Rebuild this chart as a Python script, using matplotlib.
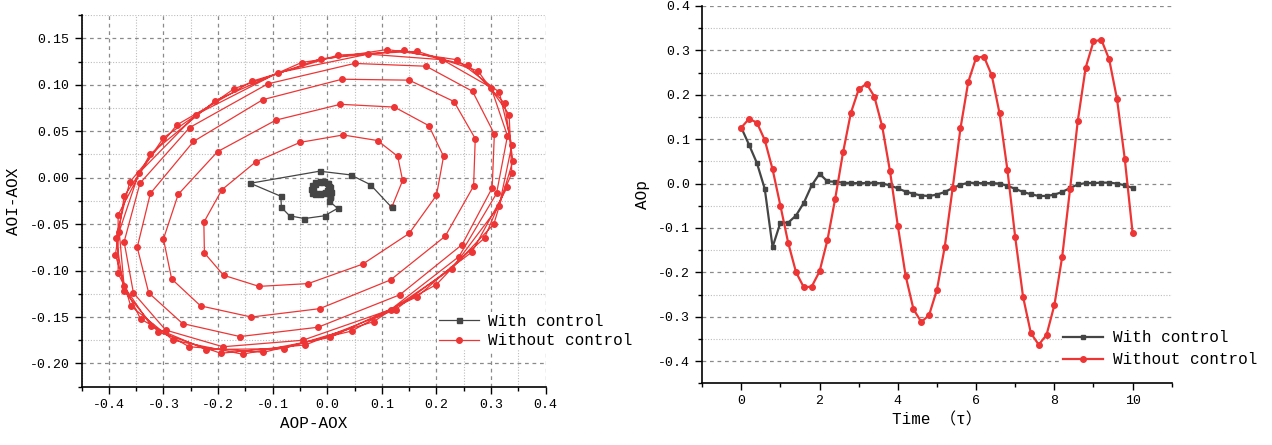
import numpy as np
import matplotlib
matplotlib.use("Agg")
import matplotlib.pyplot as plt
from matplotlib.ticker import MultipleLocator, FormatStrFormatter

plt.rcParams['font.family'] = ['Liberation Mono', 'Noto Sans CJK SC', 'DejaVu Sans']
plt.rcParams['axes.unicode_minus'] = True

RED = "#EE3535"
GREY = "#454545"

# ---------------------------------------------------------------------------
# Phase plane (left): AOP-AOX vs AOI-AOX
# ---------------------------------------------------------------------------
ctrl_px = [0.118, 0.079, 0.043, -0.014, -0.141, -0.085, -0.084, -0.069, -0.042, -0.005,
           0.019, 0.003, 0.005, 0.006, 0.005, 0.001, -0.006, -0.014, -0.022, -0.028,
           -0.030, -0.028, -0.022, -0.014, -0.006, 0.000, 0.003, 0.000, -0.007, -0.015,
           -0.023, -0.027, -0.026, -0.020, -0.012, -0.004, 0.002, 0.004, 0.005]
ctrl_py = [-0.032, -0.0075, 0.003, 0.007, -0.006, -0.020, -0.032, -0.041, -0.044, -0.041,
           -0.033, -0.025, -0.020, -0.015, -0.010, -0.006, -0.004, -0.004, -0.005, -0.008,
           -0.012, -0.016, -0.018, -0.018, -0.016, -0.013, -0.009, -0.006, -0.005, -0.005,
           -0.007, -0.011, -0.015, -0.017, -0.017, -0.015, -0.012, -0.016, -0.021]

free_px = [0.118, 0.138, 0.129, 0.092, 0.029, -0.050, -0.131, -0.193, -0.226, -0.225,
           -0.190, -0.125, -0.035, 0.065, 0.150, 0.200, 0.213, 0.186, 0.123, 0.024,
           -0.094, -0.201, -0.273, -0.300, -0.285, -0.232, -0.139, -0.014, 0.116, 0.216,
           0.268, 0.271, 0.232, 0.150, 0.027, -0.118, -0.245, -0.324, -0.348, -0.327,
           -0.265, -0.160, -0.017, 0.133, 0.247, 0.302, 0.306, 0.266, 0.181, 0.050,
           -0.109, -0.252, -0.343, -0.372, -0.355, -0.296, -0.191, -0.045, 0.116, 0.241,
           0.310, 0.330, 0.300, 0.211, 0.075, -0.090, -0.240, -0.345, -0.381, -0.372,
           -0.322, -0.222, -0.080, 0.085, 0.228, 0.315, 0.338, 0.315, 0.237, 0.110,
           -0.047, -0.205, -0.325, -0.383, -0.383, -0.342, -0.253, -0.117, 0.045, 0.200,
           0.305, 0.340, 0.325, 0.258, 0.140, -0.012, -0.170, -0.300, -0.372, -0.388,
           -0.360, -0.282, -0.155, 0.005, 0.165, 0.288, 0.338, 0.333, 0.276, 0.165,
           0.020, -0.137, -0.275, -0.362, -0.387, -0.372, -0.310, -0.195, -0.040, 0.125,
           0.265, 0.330]
free_py = [-0.032, -0.003, 0.023, 0.040, 0.046, 0.038, 0.017, -0.013, -0.048, -0.081,
           -0.105, -0.117, -0.114, -0.093, -0.060, -0.019, 0.023, 0.056, 0.076, 0.079,
           0.062, 0.028, -0.018, -0.066, -0.109, -0.138, -0.150, -0.141, -0.110, -0.063,
           -0.009, 0.042, 0.082, 0.105, 0.106, 0.084, 0.039, -0.017, -0.075, -0.124,
           -0.157, -0.171, -0.161, -0.126, -0.072, -0.011, 0.047, 0.093, 0.120, 0.123,
           0.101, 0.054, -0.006, -0.069, -0.124, -0.164, -0.182, -0.175, -0.142, -0.085,
           -0.017, 0.045, 0.097, 0.127, 0.133, 0.113, 0.068, 0.005, -0.058, -0.117,
           -0.160, -0.185, -0.184, -0.155, -0.098, -0.030, 0.035, 0.092, 0.127, 0.138,
           0.124, 0.083, 0.025, -0.040, -0.103, -0.152, -0.182, -0.188, -0.165, -0.115,
           -0.050, 0.018, 0.080, 0.121, 0.137, 0.128, 0.096, 0.043, -0.020, -0.083,
           -0.138, -0.175, -0.190, -0.172, -0.128, -0.065, 0.005, 0.068, 0.115, 0.136,
           0.132, 0.104, 0.057, -0.005, -0.065, -0.122, -0.166, -0.189, -0.180, -0.142,
           -0.080, -0.010]

# ---------------------------------------------------------------------------
# Time series (right): AOp vs time, sampled every 0.2
# ---------------------------------------------------------------------------
t = np.round(np.arange(51) * 0.2, 1)
aop_ctrl = [0.126, 0.087, 0.046, -0.012, -0.143, -0.088, -0.088, -0.072, -0.043, -0.004,
            0.022, 0.005, 0.004, 0.002, 0.001, 0.001, 0.001, 0.002, 0.000, -0.004,
            -0.011, -0.018, -0.023, -0.027, -0.028, -0.025, -0.019, -0.010, -0.003, 0.002,
            0.001, 0.001, 0.001, 0.000, -0.005, -0.012, -0.019, -0.024, -0.028, -0.028,
            -0.025, -0.019, -0.010, -0.002, 0.001, 0.001, 0.002, 0.002, 0.000, -0.004,
            -0.010]
aop_free = [0.126, 0.146, 0.137, 0.098, 0.032, -0.050, -0.134, -0.200, -0.234, -0.232,
            -0.198, -0.128, -0.034, 0.070, 0.159, 0.212, 0.225, 0.196, 0.129, 0.028,
            -0.095, -0.208, -0.283, -0.312, -0.296, -0.239, -0.142, -0.011, 0.124, 0.229,
            0.283, 0.286, 0.244, 0.158, 0.031, -0.121, -0.255, -0.337, -0.363, -0.341,
            -0.274, -0.165, -0.013, 0.142, 0.261, 0.320, 0.324, 0.280, 0.191, 0.055,
            -0.112]

fig = plt.figure(figsize=(12.72, 4.45), dpi=100)


def style_axes(ax):
    for side in ["top", "right"]:
        ax.spines[side].set_visible(False)
    for side in ["left", "bottom"]:
        ax.spines[side].set_linewidth(1.2)
    ax.tick_params(which="major", direction="out", length=5, width=1, labelsize=9.5)
    ax.tick_params(which="minor", direction="out", length=3, width=1)
    ax.set_axisbelow(True)


# ---- left panel
ax1 = fig.add_axes([0.0641, 0.131, 0.3649, 0.835])
ax1.plot(free_px, free_py, color=RED, lw=0.9, marker="o", ms=4, mfc=RED, mec=RED,
         label="Without control")
ax1.plot(ctrl_px, ctrl_py, color=GREY, lw=0.9, marker="s", ms=3.6, mfc=GREY, mec=GREY,
         label="With control")
ax1.set_xlim(-0.45, 0.4)
ax1.set_ylim(-0.225, 0.175)
ax1.xaxis.set_major_locator(MultipleLocator(0.1))
ax1.xaxis.set_minor_locator(MultipleLocator(0.05))
ax1.yaxis.set_major_locator(MultipleLocator(0.05))
ax1.yaxis.set_minor_locator(MultipleLocator(0.025))
ax1.xaxis.set_major_formatter(FormatStrFormatter("%.1f"))
ax1.yaxis.set_major_formatter(FormatStrFormatter("%.2f"))
ax1.grid(which="major", color="#8a8a8a", ls=(0, (3, 3)), lw=0.9)
ax1.grid(which="minor", color="#bdbdbd", ls=(0, (1, 1.5)), lw=0.8)
style_axes(ax1)
ax1.set_xlabel("AOP-AOX", fontsize=11.5, labelpad=4)
ax1.set_ylabel("AOI-AOX", fontsize=11.5, labelpad=6)
h, l = ax1.get_legend_handles_labels()
leg1 = ax1.legend(h[::-1], l[::-1], loc="lower left", bbox_to_anchor=(0.766, 0.099),
                  fontsize=11.5, frameon=True, facecolor="white", edgecolor="none",
                  framealpha=1, fancybox=False, borderpad=0.1, borderaxespad=0,
                  handlelength=2.5, handletextpad=0.6, labelspacing=0.27)

# ---- right panel
ax2 = fig.add_axes([0.552, 0.1386, 0.3692, 0.848])
ax2.plot(t, aop_ctrl, color=GREY, lw=1.6, marker="s", ms=3.5, mfc=GREY, mec=GREY,
         label="With control")
ax2.plot(t, aop_free, color=RED, lw=1.6, marker="o", ms=4, mfc=RED, mec=RED,
         label="Without control")
ax2.set_xlim(-1, 11)
ax2.set_ylim(-0.45, 0.4)
ax2.xaxis.set_major_locator(MultipleLocator(2))
ax2.xaxis.set_minor_locator(MultipleLocator(1))
ax2.yaxis.set_major_locator(MultipleLocator(0.1))
ax2.yaxis.set_minor_locator(MultipleLocator(0.05))
ax2.xaxis.set_major_formatter(FormatStrFormatter("%d"))
ax2.yaxis.set_major_formatter(FormatStrFormatter("%.1f"))
ax2.grid(axis="y", which="major", color="#8a8a8a", ls=(0, (3, 3)), lw=0.9)
ax2.grid(axis="y", which="minor", color="#bdbdbd", ls=(0, (1, 1.5)), lw=0.8)
style_axes(ax2)
ax2.set_xlabel("Time （τ）", fontsize=11.5, labelpad=4)
ax2.set_ylabel("AOp", fontsize=11.5, labelpad=6)
leg2 = ax2.legend(loc="lower left", bbox_to_anchor=(0.766, 0.038),
                  fontsize=11.5, frameon=True, facecolor="white", edgecolor="none",
                  framealpha=1, fancybox=False, borderpad=0.1, borderaxespad=0,
                  handlelength=2.5, handletextpad=0.6, labelspacing=0.45)

fig.savefig("out.png", dpi=100)
